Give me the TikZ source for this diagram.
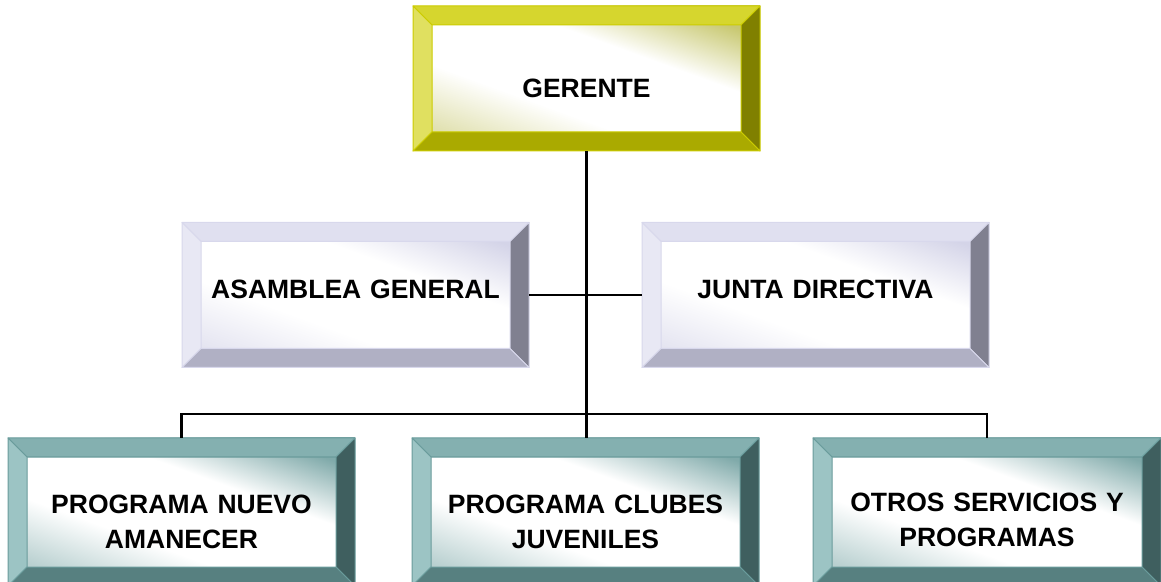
\documentclass[tikz,border=0pt]{standalone}
\usepackage{fontspec}
\setmainfont{Liberation Sans}
\usetikzlibrary{calc}
% bevel colours: T top, L left, R right, B bottom, E edge, F face tint
\definecolor{amaT}{HTML}{D6D62E}
\definecolor{amaL}{HTML}{E0E060}
\definecolor{amaR}{HTML}{808000}
\definecolor{amaB}{HTML}{AAAA00}
\definecolor{amaE}{HTML}{CCCC00}
\definecolor{amaF}{HTML}{C8C870}
\definecolor{lilT}{HTML}{E0E0F0}
\definecolor{lilL}{HTML}{E8E8F4}
\definecolor{lilR}{HTML}{808090}
\definecolor{lilB}{HTML}{B0B0C4}
\definecolor{lilE}{HTML}{D8D8EC}
\definecolor{lilF}{HTML}{D4D4E8}
\definecolor{verT}{HTML}{84B0B0}
\definecolor{verL}{HTML}{9CC4C4}
\definecolor{verR}{HTML}{3F5F5F}
\definecolor{verB}{HTML}{578080}
\definecolor{verE}{HTML}{6A9C9C}
\definecolor{verF}{HTML}{80AAAA}
% face shadings, tint at the bottom left and top right corners
\pgfdeclarehorizontalshading{caraama}{100bp}{color(0bp)=(amaF!55);
  color(25bp)=(amaF!55); color(40bp)=(white); color(60bp)=(white);
  color(75bp)=(amaF); color(100bp)=(amaF)}
\pgfdeclarehorizontalshading{caralil}{100bp}{color(0bp)=(lilF!60);
  color(25bp)=(lilF!60); color(40bp)=(white); color(60bp)=(white);
  color(75bp)=(lilF); color(100bp)=(lilF)}
\pgfdeclarehorizontalshading{caraver}{100bp}{color(0bp)=(verF!55);
  color(25bp)=(verF!55); color(40bp)=(white); color(60bp)=(white);
  color(75bp)=(verF); color(100bp)=(verF)}
\tikzstyle{caja}=[minimum width=347pt, minimum height=145pt, inner sep=0pt,
  outer sep=0pt, shading angle=70]
\tikzstyle{cajaama}=[caja, shading=caraama]
\tikzstyle{cajalil}=[caja, shading=caralil]
\tikzstyle{cajaver}=[caja, minimum height=148pt, shading=caraver]
\tikzstyle{rotulo}=[font=\bfseries\fontsize{26.5}{35}\selectfont,
  text width=320pt, align=center]
\tikzstyle{linea}=[draw, line width=2.6pt, black]
\tikzstyle{bis}=[line width=1pt, line join=round]
\newcommand{\bisel}[2]{%
  % top, left, right and bottom faces of the frame
  \path[bis, fill=#2T, draw=#2E] (#1.north west) -- (#1.north east)
    -- ($(#1.north east)+(-19,-19)$) -- ($(#1.north west)+(19,-19)$) -- cycle;
  \path[bis, fill=#2L, draw=#2E] (#1.north west) -- (#1.south west)
    -- ($(#1.south west)+(19,19)$) -- ($(#1.north west)+(19,-19)$) -- cycle;
  \path[bis, fill=#2R, draw=#2E] (#1.north east) -- (#1.south east)
    -- ($(#1.south east)+(-19,19)$) -- ($(#1.north east)+(-19,-19)$) -- cycle;
  \path[bis, fill=#2B, draw=#2E] (#1.south west) -- (#1.south east)
    -- ($(#1.south east)+(-19,19)$) -- ($(#1.south west)+(19,19)$) -- cycle;}

\begin{document}
\begin{tikzpicture}[x=1pt,y=1pt]
  \useasboundingbox (0,0) rectangle (1161,581);

  % Draw the boxes
  \node[cajaama] (ger) at (586.5,502.5) {};
  \node[cajalil] (asam) at (355.5,286) {};
  \node[cajalil] (junta) at (815.5,286) {};
  \node[cajaver] (p1) at (181.5,69) {};
  \node[cajaver] (p2) at (585.5,69) {};
  \node[cajaver, minimum width=348pt] (p3) at (987,69) {};

  \bisel{ger}{ama}
  \bisel{asam}{lil}
  \bisel{junta}{lil}
  \bisel{p1}{ver}
  \bisel{p2}{ver}
  \bisel{p3}{ver}

  % Texts
  \node[rotulo] (ger-t) at ($(ger)+(0,-10)$) {GERENTE};
  \node[rotulo] (asam-t) at ($(asam)+(0,6)$) {ASAMBLEA GENERAL};
  \node[rotulo] (junta-t) at ($(junta)+(0,6)$) {JUNTA DIRECTIVA};
  \node[rotulo] (p1-t) at ($(p1)+(0,-10)$) {PROGRAMA NUEVO\\AMANECER};
  \node[rotulo] (p2-t) at ($(p2)+(0,-10)$) {PROGRAMA CLUBES\\JUVENILES};
  \node[rotulo] (p3-t) at ($(p3)+(0,-8)$) {OTROS SERVICIOS Y\\PROGRAMAS};

  % Draw the connectors
  \path[linea] (ger.south) -- (ger.south |- p2.north);
  \path[linea] (asam.east) -- (junta.west);
  \path[linea] (p1.north) -- ++(0,24) -| (p3.north);
\end{tikzpicture}
\end{document}
